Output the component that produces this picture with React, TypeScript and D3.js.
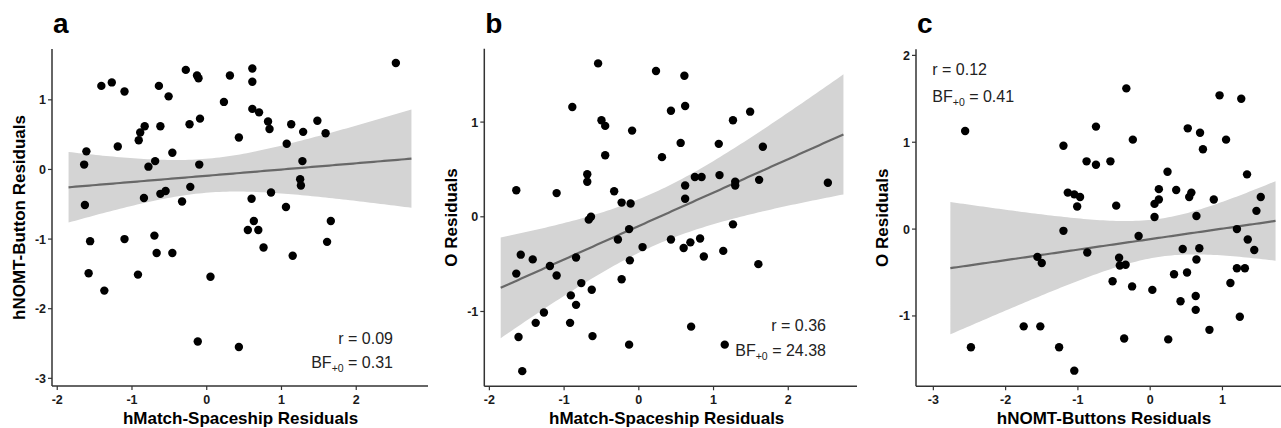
import React from "react";
import * as d3 from "d3";

// ---------- data ----------
const aX = [2.53,-1.41,-1.27,-1.10,-0.28,-0.13,-0.11,-0.64,-0.51,0.31,0.61,0.61,0.23,0.61,0.70,0.82,0.84,1.13,1.48,1.29,1.59,1.07,1.28,1.25,1.26,0.43,-0.09,-0.23,-0.62,-0.83,-0.89,-0.91,-1.19,-1.61,-1.64,-0.78,-0.69,-0.46,-0.10,-0.22,-0.84,-0.62,-0.55,-0.33,-1.63,0.60,0.86,1.06,-1.56,-1.10,-0.70,-0.67,-0.46,-1.58,-0.92,-1.37,0.05,-0.12,0.43,0.55,0.63,0.69,0.76,1.15,1.66,1.61];
const aY = [1.53,1.20,1.25,1.12,1.43,1.35,1.31,1.20,1.05,1.35,1.45,1.26,0.97,0.87,0.82,0.69,0.58,0.65,0.70,0.54,0.52,0.37,0.12,-0.14,-0.23,0.46,0.73,0.65,0.62,0.62,0.53,0.42,0.33,0.26,0.07,0.04,0.12,0.24,0.07,-0.25,-0.41,-0.35,-0.31,-0.46,-0.51,-0.42,-0.33,-0.54,-1.03,-1.00,-0.95,-1.20,-1.20,-1.49,-1.51,-1.74,-1.54,-2.47,-2.55,-0.87,-0.74,-0.87,-1.12,-1.24,-0.74,-1.04];

const bX = [-0.545,0.23,0.61,-0.89,0.62,0.43,1.49,1.26,-0.50,-0.45,-0.09,0.56,1.07,1.66,-0.45,0.31,-0.69,-0.69,-1.64,-1.10,-0.33,-0.23,-0.11,0.75,0.84,1.08,0.62,0.62,1.29,1.29,1.61,2.53,-0.67,-0.64,1.26,-0.13,-0.28,0.43,0.69,0.82,0.60,0.05,0.87,1.13,1.60,-0.12,-1.58,-1.42,-0.84,-1.19,-1.64,-1.10,-0.23,-0.77,-0.91,-0.63,-0.84,-1.27,-1.38,-0.92,-1.61,-0.62,-0.13,-1.56,0.70,1.15];
const bY = [1.62,1.54,1.49,1.16,1.17,1.12,1.11,1.02,1.02,0.96,0.91,0.78,0.77,0.74,0.65,0.63,0.45,0.37,0.28,0.25,0.27,0.15,0.14,0.42,0.42,0.44,0.33,0.19,0.37,0.33,0.39,0.36,-0.03,0.00,-0.08,-0.13,-0.24,-0.24,-0.27,-0.23,-0.33,-0.32,-0.42,-0.36,-0.50,-0.46,-0.40,-0.45,-0.43,-0.52,-0.60,-0.62,-0.66,-0.70,-0.83,-0.77,-0.93,-1.01,-1.12,-1.12,-1.27,-1.26,-1.35,-1.63,-1.16,-1.35];

const cX = [-2.56,-0.33,0.96,1.26,-1.20,-0.75,-0.24,0.52,0.69,1.05,0.73,-0.88,-0.75,-0.55,0.24,1.34,-1.14,-1.05,-0.97,-1.01,-0.47,0.12,0.12,0.06,0.36,0.57,0.54,0.88,1.53,1.47,0.06,0.64,1.20,1.35,1.44,-1.20,-0.16,-1.56,-1.50,-0.87,-0.43,-0.42,-0.34,0.45,0.68,0.64,1.20,1.31,0.33,0.51,-0.52,-0.25,0.03,1.11,0.63,0.42,0.63,1.24,0.82,-1.75,-1.52,-2.48,-1.26,-0.36,0.25,-1.05];
const cY = [1.13,1.62,1.54,1.50,0.96,1.18,1.03,1.16,1.11,1.03,0.92,0.78,0.74,0.78,0.66,0.63,0.42,0.40,0.37,0.26,0.27,0.46,0.34,0.29,0.45,0.42,0.37,0.34,0.37,0.21,0.14,0.15,0.00,-0.12,-0.24,-0.02,-0.08,-0.32,-0.39,-0.27,-0.33,-0.42,-0.41,-0.23,-0.22,-0.35,-0.45,-0.45,-0.52,-0.50,-0.60,-0.66,-0.70,-0.62,-0.77,-0.83,-0.93,-1.01,-1.16,-1.12,-1.12,-1.36,-1.36,-1.26,-1.27,-1.63];

// fitted line (y at left / right end of the smoother) and 95% band half-widths (left, narrowest, right)
const fitA = [-0.256, 0.155];
const bandA = [0.507, 0.244, 0.705];
const fitB = [-0.75, 0.87];
const bandB = [0.532, 0.28, 0.634];
const fitC = [-0.45, 0.094];
const bandC = [0.762, 0.219, 0.458];

const panelLetters = ["a", "b", "c"];
const xTitles = ["hMatch-Spaceship Residuals", "hMatch-Spaceship Residuals", "hNOMT-Buttons Residuals"];
const yTitles = ["hNOMT-Button Residuals", "O Residuals", "O Residuals"];
const rLabels = ["0.09", "0.36", "0.12"];
const bfLabels = ["0.31", "24.38", "0.41"];
const xTicksAB = [-2, -1, 0, 1, 2];
const xTicksC = [-3, -2, -1, 0, 1];
const yTicksA = [-3, -2, -1, 0, 1];
const yTicksB = [-1, 0, 1];
const yTicksC = [-1, 0, 1, 2];

const FONT = "'Liberation Sans', Arial, Helvetica, sans-serif";

type PanelProps = {
  xs: number[]; ys: number[]; fit: number[]; band: number[];
  xDomain: [number, number]; xRange: [number, number];
  yDomain: [number, number]; yRange: [number, number];
  xTicks: number[]; yTicks: number[];
  letter: string; xTitle: string; yTitle: string;
  xTitleX: number; yTitleX: number;
  r: string; bf: string;
  annoX: number; annoY1: number; annoY2: number; annoAnchor: "start" | "end";
};

function Panel(p: PanelProps) {
  const x = d3.scaleLinear().domain(p.xDomain).range(p.xRange);
  const y = d3.scaleLinear().domain(p.yDomain).range(p.yRange);
  const [ex0, ex1] = d3.extent(p.xs) as [number, number];
  const pad = (ex1 - ex0) * 0.05;
  const xL = ex0 - pad, xR = ex1 + pad;
  const lineY = d3.scaleLinear().domain([xL, xR]).range([p.fit[0], p.fit[1]]);
  const [wL, w0, wR] = p.band;
  const aa = Math.sqrt(wL * wL - w0 * w0);
  const bb = Math.sqrt(wR * wR - w0 * w0);
  const xc = (bb * xL + aa * xR) / (aa + bb);
  const k = (aa + bb) / (xR - xL);
  const N = 100;
  const grid = d3.range(N + 1).map((i) => xL + ((xR - xL) * i) / N);
  const bandPts = grid.map((gx) => {
    const yh = lineY(gx);
    const w = Math.sqrt(w0 * w0 + k * k * (gx - xc) ** 2);
    return { gx, yh, lo: yh - w, hi: yh + w };
  });
  const area = d3.area<any>().x((d) => x(d.gx)).y0((d) => y(d.lo)).y1((d) => y(d.hi));
  const line = d3.line<any>().x((d) => x(d.gx)).y((d) => y(d.yh));
  const x0 = p.xRange[0], x1 = p.xRange[1];
  const yb = p.yRange[0], yt = p.yRange[1];
  const axisColor = "#333";
  const midY = (yb + yt) / 2;
  return (
    <g fontFamily={FONT}>
      <path d={area(bandPts)!} fill="#d4d4d4" />
      <path d={line(bandPts)!} fill="none" stroke="#686868" strokeWidth={2.2} />
      {p.xs.map((v, i) => (
        <circle key={i} cx={x(v)} cy={y(p.ys[i])} r={4.2} fill="#000" />
      ))}
      <line x1={x0} x2={x0} y1={yt} y2={yb} stroke={axisColor} strokeWidth={1.5} />
      <line x1={x0} x2={x1} y1={yb} y2={yb} stroke={axisColor} strokeWidth={1.5} />
      {p.yTicks.map((t) => (
        <g key={"y" + t}>
          <line x1={x0 - 4} x2={x0} y1={y(t)} y2={y(t)} stroke={axisColor} strokeWidth={1.2} />
          <text x={x0 - 6} y={y(t)} dy="0.36em" textAnchor="end" fontSize={12.5} fontWeight="bold" fill="#1a1a1a">{t}</text>
        </g>
      ))}
      {p.xTicks.map((t) => (
        <g key={"x" + t}>
          <line x1={x(t)} x2={x(t)} y1={yb} y2={yb + 4} stroke={axisColor} strokeWidth={1.2} />
          <text x={x(t)} y={yb + 17.5} textAnchor="middle" fontSize={12.5} fontWeight="bold" fill="#1a1a1a">{t}</text>
        </g>
      ))}
      <text x={p.xTitleX} y={424} textAnchor="middle" fontSize={17} fontWeight="bold" fill="#000">{p.xTitle}</text>
      <text transform={`translate(${p.yTitleX},${midY}) rotate(-90)`} dy="0.36em" textAnchor="middle" fontSize={17} fontWeight="bold" fill="#000">{p.yTitle}</text>
      <text x={x0 + 1} y={33} fontSize={28} fontWeight="bold" fill="#000">{p.letter}</text>
      <text x={p.annoX} y={p.annoY1} textAnchor={p.annoAnchor} fontSize={16} fill="#222">{"r = " + p.r}</text>
      <text x={p.annoX} y={p.annoY2} textAnchor={p.annoAnchor} fontSize={16} fill="#222">
        <tspan>BF</tspan>
        <tspan fontSize={10.5} dy={4}>+0</tspan>
        <tspan dy={-4}>{" = " + p.bf}</tspan>
      </text>
    </g>
  );
}

export default function App() {
  return (
    <svg width={1281} height={428} style={{ position: "absolute", left: 0, top: 0, background: "#fff" }}>
      <rect width={1281} height={428} fill="#fff" />
      <Panel xs={aX} ys={aY} fit={fitA} band={bandA} xDomain={[-2.07, 2.96]} xRange={[52, 428]} yDomain={[-3.11, 1.73]} yRange={[386, 49]}
        xTicks={xTicksAB} yTicks={yTicksA} letter={panelLetters[0]} xTitle={xTitles[0]} yTitle={yTitles[0]}
        xTitleX={240.5} yTitleX={19} r={rLabels[0]} bf={bfLabels[0]} annoX={393} annoY1={344} annoY2={367.5} annoAnchor="end" />
      <Panel xs={bX} ys={bY} fit={fitB} band={bandB} xDomain={[-2.068, 2.92]} xRange={[484.3, 857]} yDomain={[-1.79, 1.775]} yRange={[386.3, 48.7]}
        xTicks={xTicksAB} yTicks={yTicksB} letter={panelLetters[1]} xTitle={xTitles[1]} yTitle={yTitles[1]}
        xTitleX={666.7} yTitleX={450.7} r={rLabels[1]} bf={bfLabels[1]} annoX={826} annoY1={330.7} annoY2={355.7} annoAnchor="end" />
      <Panel xs={cX} ys={cY} fit={fitC} band={bandC} xDomain={[-3.24, 1.81]} xRange={[916, 1281]} yDomain={[-1.81, 2.07]} yRange={[386.3, 49.3]}
        xTicks={xTicksC} yTicks={yTicksC} letter={panelLetters[2]} xTitle={xTitles[2]} yTitle={yTitles[2]}
        xTitleX={1104} yTitleX={881.7} r={rLabels[2]} bf={bfLabels[2]} annoX={932.3} annoY1={75.3} annoY2={101.7} annoAnchor="start" />
    </svg>
  );
}
